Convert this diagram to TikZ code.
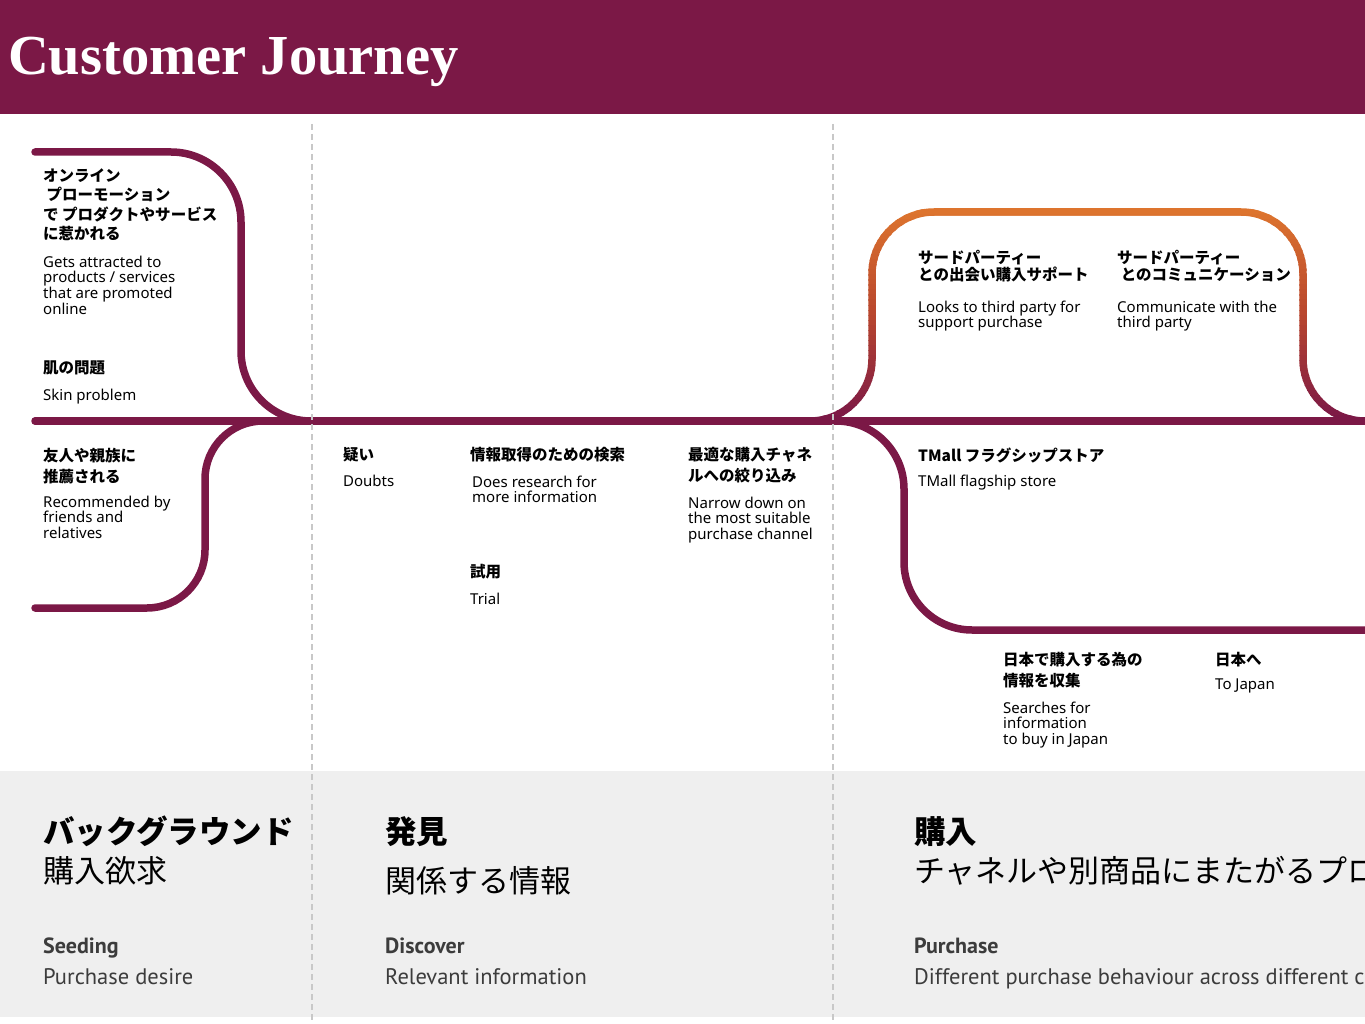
\documentclass[tikz,border=0pt]{standalone}
\usepackage{fontspec}
\setmainfont{Noto Sans}
\newfontfamily\jpfont{Noto Sans CJK JP}
\newfontfamily\titlefont{Liberation Serif}
\newfontfamily\phasefont{PT Sans}
\usetikzlibrary{positioning}

\definecolor{jmaroon}{RGB}{123,24,70}
\definecolor{jred}{RGB}{184,70,46}
\definecolor{jorange}{RGB}{221,116,46}
\definecolor{bandgray}{RGB}{239,239,239}
\definecolor{dashgray}{RGB}{200,200,200}
\definecolor{phasegray}{RGB}{60,60,60}

\begin{document}
\begin{tikzpicture}[
    x=1pt, y=-1pt,
    track/.style={draw=jmaroon, line width=7.5pt, line cap=round},
    loopline/.style={line width=7.5pt, line cap=round},
    divider/.style={draw=dashgray, line width=2pt, dash pattern=on 6pt off 4pt},
    jp/.style={font=\jpfont\bfseries\fontsize{15.5}{21}\selectfont, anchor=north west, inner sep=0pt, align=left},
    en/.style={font=\fontsize{15}{15.7}\selectfont, anchor=north west, inner sep=0pt, align=left},
    phasejp/.style={font=\jpfont\bfseries\fontsize{31.5}{36}\selectfont, anchor=north west, inner sep=0pt},
    phasesub/.style={font=\jpfont\fontsize{31}{36}\selectfont, anchor=north west, inner sep=0pt},
    phaseen/.style={font=\phasefont\bfseries\fontsize{22}{24}\selectfont, text=phasegray, anchor=north west, inner sep=0pt},
    phasedesc/.style={font=\phasefont\fontsize{22.5}{24}\selectfont, text=phasegray, anchor=north west, inner sep=0pt}
]
\useasboundingbox (0,0) rectangle (1365,1024);
\clip (0,0) rectangle (1365,1024);

% --- Background ---
\fill[white] (0,0) rectangle (1365,1024);
\fill[bandgray] (0,771) rectangle (1365,1017);
\fill[jmaroon] (0,0) rectangle (1365,114);
\node[font=\titlefont\bfseries\fontsize{56.5}{60}\selectfont, text=white, anchor=base west, inner sep=0pt] (title) at (8,75) {Customer Journey};

% --- Orange loop (third party), drawn in strips for the colour fade ---
\def\orangeloop{(810,421) -- (872,421) -- (872,212) -- (1303,212) -- (1303,421) -- (1365,421)}
\foreach \k in {0,...,43} {
    \pgfmathsetmacro{\ymid}{207.5+5*\k}
    \begin{scope}
        \clip (790,{205+5*\k}) rectangle (1365,{210.6+5*\k});
        \ifdim\ymid pt<315pt
            \pgfmathsetmacro{\mix}{max(0,min(100,(315-\ymid)/1.03))}
            \draw[loopline, rounded corners=62, draw=jorange!\mix!jred] \orangeloop;
        \else
            \pgfmathsetmacro{\mix}{max(0,min(100,(418-\ymid)/1.03))}
            \draw[loopline, rounded corners=62, draw=jred!\mix!jmaroon] \orangeloop;
        \fi
    \end{scope}
}

% --- Purple tracks ---
\draw[track, rounded corners=70] (35,152) -- (241,152) -- (241,421) -- (312,421);
\draw[track, rounded corners=58] (272,421) -- (205,421) -- (205,608) -- (35,608);
\draw[track, rounded corners=68] (833,421) -- (904,421) -- (904,630) -- (1370,630);
\draw[track] (35,421) -- (1370,421);

% --- Phase dividers ---
\foreach \x in {312, 833} {
    \draw[divider] (\x,124) -- (\x,1024);
}

% --- Seeding ---
\node[jp, font=\jpfont\bfseries\fontsize{15.5}{19.3}\selectfont] (promojp) at (43,168.5) {オンライン\\\ プローモーション\\で プロダクトやサービス\\に惹かれる};
\node[en] (promoen) at (43,255.5) {Gets attracted to\\products / services\\that are promoted\\online};
\node[jp] (skinjp) at (43,360.5) {肌の問題};
\node[en] (skinen) at (43,388.5) {Skin problem};
\node[jp] (friendjp) at (43,447.5) {友人や親族に\\推薦される};
\node[en] (frienden) at (43,495.5) {Recommended by\\friends and\\relatives};

% --- Discover ---
\node[jp] (doubtjp) at (343,447.5) {疑い};
\node[en] (doubten) at (343,474.5) {Doubts};
\node[jp] (researchjp) at (470,447.5) {情報取得のための検索};
\node[en] (researchen) at (472,475.5) {Does research for\\more information};
\node[jp] (trialjp) at (470,564.5) {試用};
\node[en] (trialen) at (470,592.5) {Trial};
\node[jp] (narrowjp) at (688,447.5) {最適な購入チャネ\\ルへの絞り込み};
\node[en] (narrowen) at (688,496.5) {Narrow down on\\the most suitable\\purchase channel};

% --- Purchase ---
\node[jp, font=\jpfont\bfseries\fontsize{15.5}{16.5}\selectfont] (supportjp) at (918,250.5) {サードパーティー\\との出会い購入サポート};
\node[en] (supporten) at (918,300.5) {Looks to third party for\\support purchase};
\node[jp, font=\jpfont\bfseries\fontsize{15.5}{16.5}\selectfont] (talkjp) at (1117,250.5) {サードパーティー\\\ とのコミュニケーション};
\node[en] (talken) at (1117,300.5) {Communicate with the\\third party};
\node[jp] (tmalljp) at (918,447.5) {TMall フラグシップストア};
\node[en] (tmallen) at (918,474.5) {TMall flagship store};
\node[jp] (searchjp) at (1003,652.5) {日本で購入する為の\\情報を収集};
\node[en] (searchen) at (1003,701.5) {Searches for\\information\\to buy in Japan};
\node[jp] (japanjp) at (1215,652.5) {日本へ};
\node[en] (japanen) at (1215,678.5) {To Japan};

% --- Phase band ---
\node[phasejp] (seedjp) at (43,816) {バックグラウンド};
\node[phasesub] (seedsub) at (43,856) {購入欲求};
\node[phaseen] (seeden) at (43,938) {Seeding};
\node[phasedesc] (seeddesc) at (43,968) {Purchase desire};
\node[phasejp] (discjp) at (385,816) {発見};
\node[phasesub] (discsub) at (385,866) {関係する情報};
\node[phaseen] (discen) at (385,938) {Discover};
\node[phasedesc] (discdesc) at (385,968) {Relevant information};
\node[phasejp] (buyjp) at (914,816) {購入};
\node[phasesub] (buysub) at (914,856) {チャネルや別商品にまたがるプロ};
\node[phaseen] (buyen) at (914,938) {Purchase};
\node[phasedesc] (buydesc) at (914,968) {Different purchase behaviour across different ch};

\end{tikzpicture}
\end{document}
